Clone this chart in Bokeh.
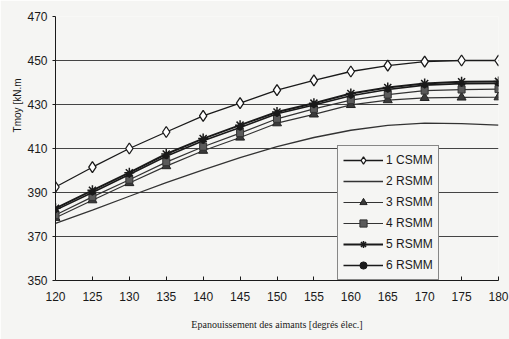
from bokeh.plotting import figure
from bokeh.models import FixedTicker, Legend, LegendItem, Title, Range1d
from bokeh.embed import file_html
from bokeh.resources import INLINE

# Magnet opening angle (electrical degrees)
angle = [120, 125, 130, 135, 140, 145, 150, 155, 160, 165, 170, 175, 180]

# Mean torque (kN.m) per machine configuration
csmm_1 = [392.5, 401.5, 410.0, 417.5, 424.8, 430.6, 436.5, 441.0, 445.0, 447.7, 449.5, 450.0, 450.0]
rsmm_2 = [376.0, 382.0, 388.3, 394.5, 400.3, 405.8, 410.8, 415.0, 418.3, 420.5, 421.5, 421.3, 420.6]
rsmm_3 = [378.5, 386.5, 394.3, 402.0, 409.0, 415.0, 421.5, 425.5, 429.8, 432.0, 433.0, 433.2, 433.3]
rsmm_4 = [379.8, 388.0, 395.8, 403.8, 410.8, 417.0, 423.5, 428.0, 432.0, 434.5, 436.3, 436.8, 437.0]
rsmm_5 = [382.8, 391.0, 399.0, 407.5, 414.5, 420.6, 426.6, 430.6, 435.0, 437.7, 439.5, 440.3, 440.5]
rsmm_6 = [382.0, 390.0, 398.2, 406.5, 413.5, 419.5, 425.8, 429.8, 434.0, 436.8, 438.8, 439.5, 439.6]

x_ticks = [120, 125, 130, 135, 140, 145, 150, 155, 160, 165, 170, 175, 180]
y_ticks = [350, 370, 390, 410, 430, 450, 470]

bg = "#f5f5f3"
ink = "#1a1a1a"

p = figure(width=509, height=339, output_backend="svg", toolbar_location=None,
           x_range=Range1d(120, 180), y_range=Range1d(350, 470),
           min_border_left=55, min_border_right=11, min_border_top=16, min_border_bottom=59)
p.background_fill_color = bg
p.border_fill_color = bg
p.outline_line_color = None

p.xgrid.visible = False
p.ygrid.grid_line_color = "#444444"
p.ygrid.grid_line_width = 1

p.xaxis.ticker = FixedTicker(ticks=x_ticks)
p.yaxis.ticker = FixedTicker(ticks=y_ticks)
for ax in (p.xaxis, p.yaxis):
    ax.axis_line_color = ink
    ax.major_tick_line_color = ink
    ax.minor_tick_line_color = None
    ax.major_label_text_font = "Liberation Sans"
    ax.major_label_text_font_size = "12px"
    ax.major_label_text_color = ink
p.xaxis.major_tick_in = 4
p.xaxis.major_tick_out = 0
p.xaxis.major_label_standoff = 11
p.yaxis.major_tick_in = 0
p.yaxis.major_tick_out = 3
p.yaxis.major_label_standoff = 5

p.xaxis.axis_label = "Epanouissement des aimants [degrés élec.]"
p.xaxis.axis_label_text_font = "Liberation Serif"
p.xaxis.axis_label_text_font_style = "normal"
p.xaxis.axis_label_text_font_size = "10px"
p.xaxis.axis_label_text_color = ink
p.xaxis.axis_label_standoff = 15

# Vertical y-axis caption in the left margin, anchored towards the top
p.add_layout(Title(text="Tmoy [kN.m", align="right", offset=62,
                   text_font="Liberation Sans", text_font_size="10px",
                   text_font_style="normal", text_color=ink, standoff=4), "left")

r2 = p.line(angle, rsmm_2, line_color="#333333", line_width=1.3)
l3 = p.line(angle, rsmm_3, line_color="#333333", line_width=1.2)
m3 = p.scatter(angle, rsmm_3, marker="triangle", size=9, fill_color="#3a3a3a", line_color="#222222")
l4 = p.line(angle, rsmm_4, line_color="#333333", line_width=1.2)
m4 = p.scatter(angle, rsmm_4, marker="square", size=7, fill_color="#5a5a5a", line_color="#333333")
l6 = p.line(angle, rsmm_6, line_color=ink, line_width=1.6)
m6 = p.scatter(angle, rsmm_6, marker="circle", size=5, fill_color=ink, line_color=ink)
l5 = p.line(angle, rsmm_5, line_color=ink, line_width=2)
m5 = p.scatter(angle, rsmm_5, marker="asterisk", size=10, line_color=ink, line_width=1.5)
l1 = p.line(angle, csmm_1, line_color=ink, line_width=1.3)
m1 = p.scatter(angle, csmm_1, marker="diamond", size=11, fill_color="white", line_color=ink, line_width=1.3)

legend = Legend(items=[
    LegendItem(label="1 CSMM", renderers=[l1, m1]),
    LegendItem(label="2 RSMM", renderers=[r2]),
    LegendItem(label="3 RSMM", renderers=[l3, m3]),
    LegendItem(label="4 RSMM", renderers=[l4, m4]),
    LegendItem(label="5 RSMM", renderers=[l5, m5]),
    LegendItem(label="6 RSMM", renderers=[l6, m6]),
], location=(282, 0))
legend.background_fill_color = bg
legend.background_fill_alpha = 1
legend.border_line_color = ink
legend.border_line_width = 1
legend.label_text_font = "Liberation Sans"
legend.label_text_font_size = "12px"
legend.label_text_color = ink
legend.glyph_width = 40
legend.glyph_height = 18
legend.label_height = 18
legend.label_standoff = 3
legend.spacing = 3
legend.padding = 5
legend.margin = 0
p.add_layout(legend)

open("out.html", "w").write(file_html(p, INLINE))
